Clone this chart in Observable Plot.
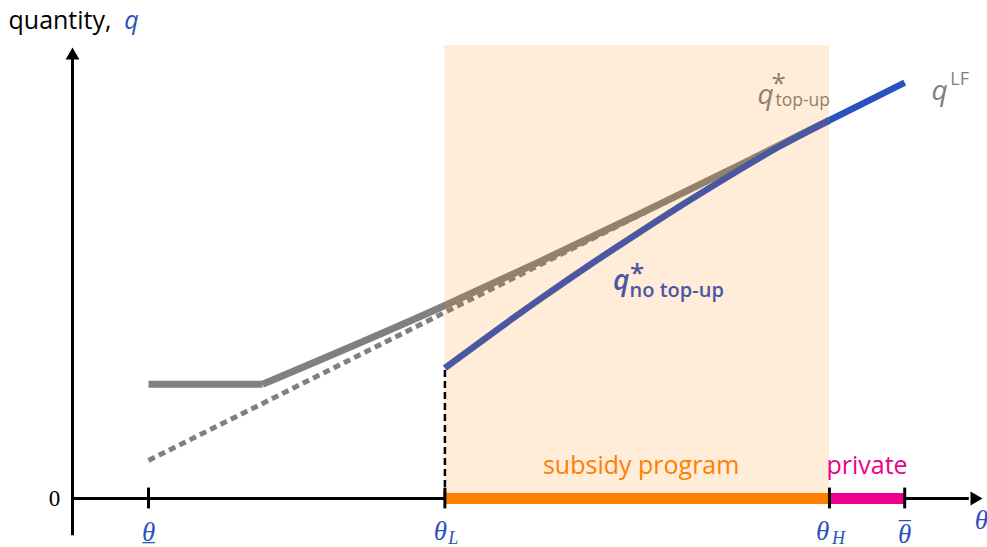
<!DOCTYPE html>
<html><head><meta charset="utf-8">
<script src="https://cdn.jsdelivr.net/npm/d3@7"></script>
<script src="https://cdn.jsdelivr.net/npm/@observablehq/plot@0.6"></script>
<style>body{margin:0;background:#fff;} svg{display:block;}</style>
</head><body><div id="chart"></div>
<script>
// ---- data (abstract model units) ----
const tickNames  = ["theta_low", "theta_L", "theta_H", "theta_high"];
const tickThetas = [1.0, 4.9, 9.96, 10.95];

// laissez-faire quantity q^LF (straight line)
const lfTheta = [1.0, 4.9, 9.96, 10.95];
const lfQ     = [0.84, 4.11, 8.35, 9.18];

// optimal quantity with top-up: flat floor, then rising
const floorTheta = [1.0, 2.5];
const floorQ     = [2.52, 2.52];
const topUpTheta = [2.5, 4.9, 6.15, 7.47, 8.79, 9.96];
const topUpQ     = [2.52, 4.26, 5.23, 6.29, 7.37, 8.35];

// optimal quantity without top-up
const noTopUpTheta = [4.9, 5.5, 6.15, 6.8, 7.4, 8.05, 8.7, 9.3, 9.96];
const noTopUpQ     = [2.88, 3.62, 4.40, 5.15, 5.81, 6.51, 7.18, 7.77, 8.35];

// program ranges
const programNames = ["subsidy program", "private"];
const programFrom  = [4.9, 9.96];
const programTo    = [9.96, 10.95];

const xAxisRange = [0, 12];
const yAxisRange = [-0.82, 10];

// ---- derived tables ----
const zip = (xs, ys) => xs.map((x, i) => ({theta: x, q: ys[i]}));
const lfDashed = zip(lfTheta.slice(0, 3), lfQ.slice(0, 3));
const lfSolid  = zip(lfTheta.slice(2), lfQ.slice(2));
const floorSeg = zip(floorTheta, floorQ);
const topUp    = zip(topUpTheta, topUpQ);
const noTopUp  = zip(noTopUpTheta, noTopUpQ);

const GRAY = "#808080", BLUE = "#2a52be", ORANGE = "#ff8000", MAGENTA = "#ec008c";
const SANS = "'Open Sans', Lato, sans-serif";
const SERIF = "'Liberation Serif', 'DejaVu Serif', serif";

const txt = (s, opts) => Plot.text([s], {text: d => d, ...opts});
const greek = {fill: BLUE, fontFamily: SERIF, fontStyle: "italic", fontSize: 27};

const chart = Plot.plot({
  width: 987, height: 547, margin: 0,
  style: {background: "white", overflow: "visible"},
  x: {domain: [0, 12], range: [72, 984], axis: null},
  y: {domain: [0, 10], range: [498, 45], axis: null},
  marks: [
    Plot.line(lfDashed, {x: "theta", y: "q", stroke: GRAY, strokeWidth: 5, strokeDasharray: "7,4.5", strokeLinecap: "butt"}),
    Plot.line(floorSeg, {x: "theta", y: "q", stroke: GRAY, strokeWidth: 7, strokeLinecap: "butt"}),
    Plot.line(topUp, {x: "theta", y: "q", stroke: GRAY, strokeWidth: 7, strokeLinecap: "butt", curve: "monotone-x"}),
    Plot.line(noTopUp, {x: "theta", y: "q", stroke: BLUE, strokeWidth: 6.5, strokeLinecap: "butt", curve: "monotone-x"}),
    Plot.line(lfSolid, {x: "theta", y: "q", stroke: BLUE, strokeWidth: 6.5, strokeLinecap: "butt"}),
    // labels inside shaded region (tinted by the overlay)
    txt("q", {x: 9.12, y: 8.9, fill: GRAY, fontFamily: SANS, fontStyle: "italic", fontSize: 28}),
    txt("*", {x: 9.29, y: 9.15, fill: GRAY, fontFamily: SANS, fontSize: 26}),
    txt("top-up", {x: 9.25, y: 8.78, fill: GRAY, fontFamily: SANS, fontSize: 17.5, textAnchor: "start"}),
    txt("q", {x: 7.22, y: 4.81, fill: BLUE, fontFamily: SANS, fontStyle: "italic", fontWeight: 600, fontSize: 28}),
    txt("*", {x: 7.43, y: 4.96, fill: BLUE, fontFamily: SANS, fontWeight: 600, fontSize: 26}),
    txt("no top-up", {x: 7.33, y: 4.6, fill: BLUE, fontFamily: SANS, fontWeight: 600, fontSize: 20, textAnchor: "start"}),
    // shaded subsidy region
    Plot.rectY([0], {x1: programFrom[0], x2: programTo[0], y1: 0, y2: 10, fill: ORANGE, fillOpacity: 0.15}),
    // dashed drop line at theta_L
    Plot.ruleX([tickThetas[1]], {x: d => d, y1: 0, y2: noTopUpQ[0], stroke: "black", strokeWidth: 2.5, strokeDasharray: "7,4"}),
    // axes
    Plot.ruleX([0], {x: d => d, y1: yAxisRange[0], y2: yAxisRange[1] - 0.2, stroke: "black", strokeWidth: 3}),
    Plot.ruleY([0], {y: d => d, x1: xAxisRange[0], x2: xAxisRange[1] - 0.2, stroke: "black", strokeWidth: 3}),
    // program bars
    Plot.ruleY([0], {y: d => d, x1: programFrom[0], x2: programTo[0], stroke: ORANGE, strokeWidth: 11}),
    Plot.ruleY([0], {y: d => d, x1: programFrom[1], x2: programTo[1], stroke: MAGENTA, strokeWidth: 11}),
    // ticks
    Plot.ruleX(tickThetas, {x: d => d, y1: -0.23, y2: 0.23, stroke: "black", strokeWidth: 3}),
    // arrowheads
    Plot.dot([0], {x: 0, y: yAxisRange[1], symbol: "triangle2", r: 6.6, fill: "black", stroke: null, dy: 10}),
    Plot.dot([0], {x: xAxisRange[1], y: 0, symbol: "triangle2", r: 6.6, fill: "black", stroke: null, rotate: 90, dx: -10}),
    // axis texts
    txt("quantity,", {x: -0.842, y: 10.55, fill: "black", fontFamily: SANS, fontSize: 25, textAnchor: "start"}),
    txt("q", {x: 0.68, y: 10.55, fill: BLUE, fontFamily: SANS, fontStyle: "italic", fontWeight: 500, fontSize: 25, textAnchor: "start"}),
    txt("0", {x: -0.237, y: 0, fill: "black", fontFamily: SERIF, fontSize: 23}),
    // theta labels (underline / overline drawn as glyphs)
    txt("θ", {x: tickThetas[0], y: -0.75, ...greek}),
    txt("_", {x: tickThetas[0], y: -0.75, ...greek, fontStyle: "normal", fontSize: 24}),
    txt("θ", {x: 4.84, y: -0.73, ...greek}),
    txt("L", {x: 5.01, y: -0.87, ...greek, fontSize: 18}),
    txt("θ", {x: 9.87, y: -0.73, ...greek}),
    txt("H", {x: 10.08, y: -0.87, ...greek, fontSize: 18}),
    txt("θ", {x: tickThetas[3], y: -0.79, ...greek}),
    txt("_", {x: tickThetas[3], y: -0.26, ...greek, fontStyle: "normal", fontSize: 24}),
    txt("θ", {x: 11.96, y: -0.49, ...greek}),
    // program labels
    txt(programNames[0], {x: (programFrom[0] + programTo[0]) / 2, y: 0.71, dx: 4, fill: ORANGE, fontFamily: SANS, fontSize: 25}),
    txt(programNames[1], {x: (programFrom[1] + programTo[1]) / 2, y: 0.71, fill: MAGENTA, fontFamily: SANS, fontSize: 25}),
    // q^LF label
    txt("q", {x: 11.41, y: 9.0, fill: GRAY, fontFamily: SANS, fontStyle: "italic", fontSize: 28}),
    txt("LF", {x: 11.55, y: 9.25, fill: GRAY, fontFamily: SANS, fontSize: 18, textAnchor: "start"})
  ]
});
document.getElementById("chart").appendChild(chart);
</script>
</body></html>
